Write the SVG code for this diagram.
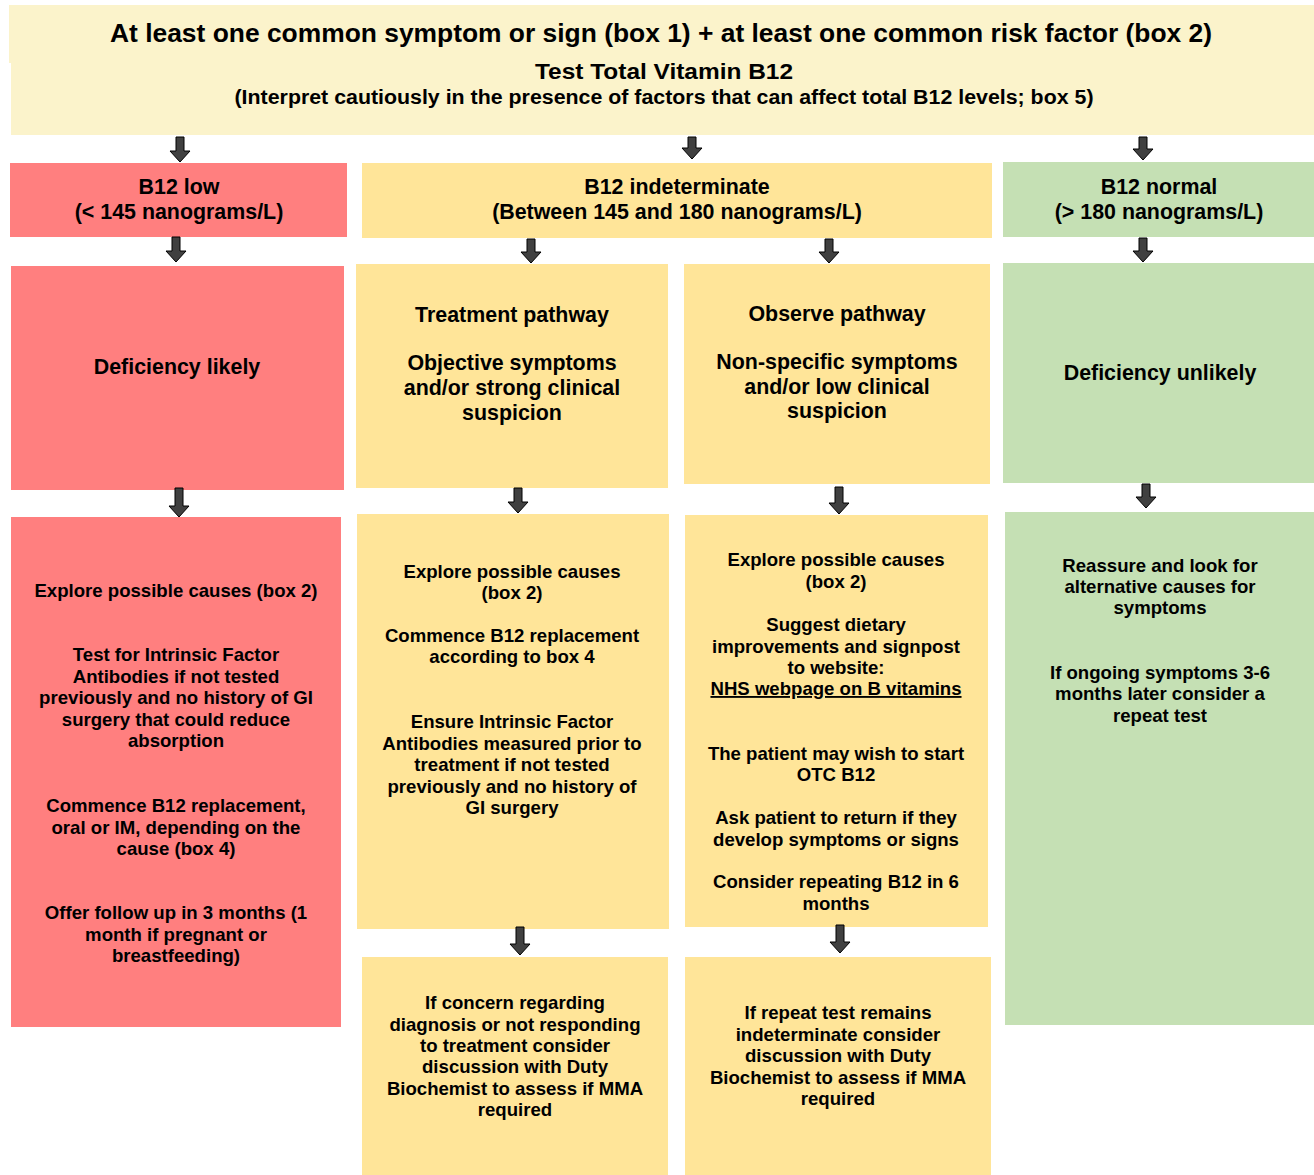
<svg xmlns="http://www.w3.org/2000/svg" width="1314" height="1175" viewBox="0 0 1314 1175">
<style>
text{font-family:"Liberation Sans",Arial,sans-serif;font-weight:bold;fill:#000;text-anchor:middle}
.hdr{fill:#FBF3CB}
.red{fill:#FF7F7F}
.yel{fill:#FFE599}
.grn{fill:#C5E0B4}
.t17{font-size:18.6px}
.t19{font-size:21.4px}
.t20{font-size:21.4px}
.arr{fill:#404040;stroke:#000;stroke-width:1}
</style>
<rect width="1314" height="1175" fill="#fff"/>
<g id="header">
<rect class="hdr" x="9" y="5" width="1305" height="58"/>
<rect class="hdr" x="11" y="63" width="1303" height="72"/>
<text x="661" y="42" style="font-size:26.4px">At least one common symptom or sign (box 1) + at least one common risk factor (box 2)</text>
<text x="664" y="79" style="font-size:22px" textLength="258" lengthAdjust="spacingAndGlyphs">Test Total Vitamin B12</text>
<text x="664" y="104" style="font-size:20px" textLength="859" lengthAdjust="spacingAndGlyphs">(Interpret cautiously in the presence of factors that can affect total B12 levels; box 5)</text>
</g>
<g id="b12-low">
<rect class="red" x="10" y="163" width="337" height="74"/>
<text class="t19" x="179" y="194">B12 low</text>
<text class="t19" x="179" y="219">(&lt; 145 nanograms/L)</text>
</g>
<g id="b12-indeterminate">
<rect class="yel" x="362" y="163" width="630" height="75"/>
<text class="t19" x="677" y="194">B12 indeterminate</text>
<text class="t19" x="677" y="219">(Between 145 and 180 nanograms/L)</text>
</g>
<g id="b12-normal">
<rect class="grn" x="1003" y="162" width="311" height="75"/>
<text class="t19" x="1159" y="194">B12 normal</text>
<text class="t19" x="1159" y="219">(&gt; 180 nanograms/L)</text>
</g>
<g id="deficiency-likely">
<rect class="red" x="11" y="266" width="333" height="224"/>
<text class="t20" x="177" y="374">Deficiency likely</text>
</g>
<g id="treatment-pathway">
<rect class="yel" x="356" y="264" width="312" height="224"/>
<text class="t20" x="512" y="322">Treatment pathway</text>
<text class="t20" x="512" y="370">Objective symptoms</text>
<text class="t20" x="512" y="395">and/or strong clinical</text>
<text class="t20" x="512" y="420">suspicion</text>
</g>
<g id="observe-pathway">
<rect class="yel" x="684" y="264" width="306" height="220"/>
<text class="t20" x="837" y="321">Observe pathway</text>
<text class="t20" x="837" y="369">Non-specific symptoms</text>
<text class="t20" x="837" y="394">and/or low clinical</text>
<text class="t20" x="837" y="418">suspicion</text>
</g>
<g id="deficiency-unlikely">
<rect class="grn" x="1003" y="263" width="311" height="220"/>
<text class="t20" x="1160" y="380">Deficiency unlikely</text>
</g>
<g id="low-actions">
<rect class="red" x="11" y="517" width="330" height="510"/>
<text class="t17" x="176" y="597">Explore possible causes (box 2)</text>
<text class="t17" x="176" y="661">Test for Intrinsic Factor</text>
<text class="t17" x="176" y="683">Antibodies if not tested</text>
<text class="t17" x="176" y="704">previously and no history of GI</text>
<text class="t17" x="176" y="726">surgery that could reduce</text>
<text class="t17" x="176" y="747">absorption</text>
<text class="t17" x="176" y="812">Commence B12 replacement,</text>
<text class="t17" x="176" y="834">oral or IM, depending on the</text>
<text class="t17" x="176" y="855">cause (box 4)</text>
<text class="t17" x="176" y="919">Offer follow up in 3 months (1</text>
<text class="t17" x="176" y="941">month if pregnant or</text>
<text class="t17" x="176" y="962">breastfeeding)</text>
</g>
<g id="treatment-actions">
<rect class="yel" x="357" y="514" width="312" height="415"/>
<text class="t17" x="512" y="578">Explore possible causes</text>
<text class="t17" x="512" y="599">(box 2)</text>
<text class="t17" x="512" y="642">Commence B12 replacement</text>
<text class="t17" x="512" y="663">according to box 4</text>
<text class="t17" x="512" y="728">Ensure Intrinsic Factor</text>
<text class="t17" x="512" y="750">Antibodies measured prior to</text>
<text class="t17" x="512" y="771">treatment if not tested</text>
<text class="t17" x="512" y="793">previously and no history of</text>
<text class="t17" x="512" y="814">GI surgery</text>
</g>
<g id="observe-actions">
<rect class="yel" x="685" y="515" width="303" height="412"/>
<text class="t17" x="836" y="566">Explore possible causes</text>
<text class="t17" x="836" y="588">(box 2)</text>
<text class="t17" x="836" y="631">Suggest dietary</text>
<text class="t17" x="836" y="653">improvements and signpost</text>
<text class="t17" x="836" y="674">to website:</text>
<text class="t17" x="836" y="695" text-decoration="underline">NHS webpage on B vitamins</text>
<text class="t17" x="836" y="760">The patient may wish to start</text>
<text class="t17" x="836" y="781">OTC B12</text>
<text class="t17" x="836" y="824">Ask patient to return if they</text>
<text class="t17" x="836" y="846">develop symptoms or signs</text>
<text class="t17" x="836" y="888">Consider repeating B12 in 6</text>
<text class="t17" x="836" y="910">months</text>
</g>
<g id="normal-actions">
<rect class="grn" x="1005" y="512" width="309" height="513"/>
<text class="t17" x="1160" y="572">Reassure and look for</text>
<text class="t17" x="1160" y="593">alternative causes for</text>
<text class="t17" x="1160" y="614">symptoms</text>
<text class="t17" x="1160" y="679">If ongoing symptoms 3-6</text>
<text class="t17" x="1160" y="700">months later consider a</text>
<text class="t17" x="1160" y="722">repeat test</text>
</g>
<g id="treatment-followup">
<rect class="yel" x="362" y="957" width="306" height="218"/>
<text class="t17" x="515" y="1009">If concern regarding</text>
<text class="t17" x="515" y="1031">diagnosis or not responding</text>
<text class="t17" x="515" y="1052">to treatment consider</text>
<text class="t17" x="515" y="1073">discussion with Duty</text>
<text class="t17" x="515" y="1095">Biochemist to assess if MMA</text>
<text class="t17" x="515" y="1116">required</text>
</g>
<g id="observe-followup">
<rect class="yel" x="685" y="957" width="306" height="218"/>
<text class="t17" x="838" y="1019">If repeat test remains</text>
<text class="t17" x="838" y="1041">indeterminate consider</text>
<text class="t17" x="838" y="1062">discussion with Duty</text>
<text class="t17" x="838" y="1084">Biochemist to assess if MMA</text>
<text class="t17" x="838" y="1105">required</text>
</g>
<g id="connectors">
<path class="arr" d="M176,137 H184 V151 H190 L180,162 L170,151 H176 Z"/>
<path class="arr" d="M688,137 H696 V148 H702 L692,159 L682,148 H688 Z"/>
<path class="arr" d="M1139,137 H1147 V149 H1153 L1143,160 L1133,149 H1139 Z"/>
<path class="arr" d="M172,237 H180 V251 H186 L176,262 L166,251 H172 Z"/>
<path class="arr" d="M527,239 H535 V252 H541 L531,263 L521,252 H527 Z"/>
<path class="arr" d="M825,239 H833 V252 H839 L829,263 L819,252 H825 Z"/>
<path class="arr" d="M1139,238 H1147 V251 H1153 L1143,262 L1133,251 H1139 Z"/>
<path class="arr" d="M175,488 H183 V506 H189 L179,517 L169,506 H175 Z"/>
<path class="arr" d="M514,488 H522 V502 H528 L518,513 L508,502 H514 Z"/>
<path class="arr" d="M835,487 H843 V503 H849 L839,514 L829,503 H835 Z"/>
<path class="arr" d="M1142,484 H1150 V497 H1156 L1146,508 L1136,497 H1142 Z"/>
<path class="arr" d="M516,927 H524 V944 H530 L520,955 L510,944 H516 Z"/>
<path class="arr" d="M836,925 H844 V942 H850 L840,953 L830,942 H836 Z"/>
</g>
</svg>
